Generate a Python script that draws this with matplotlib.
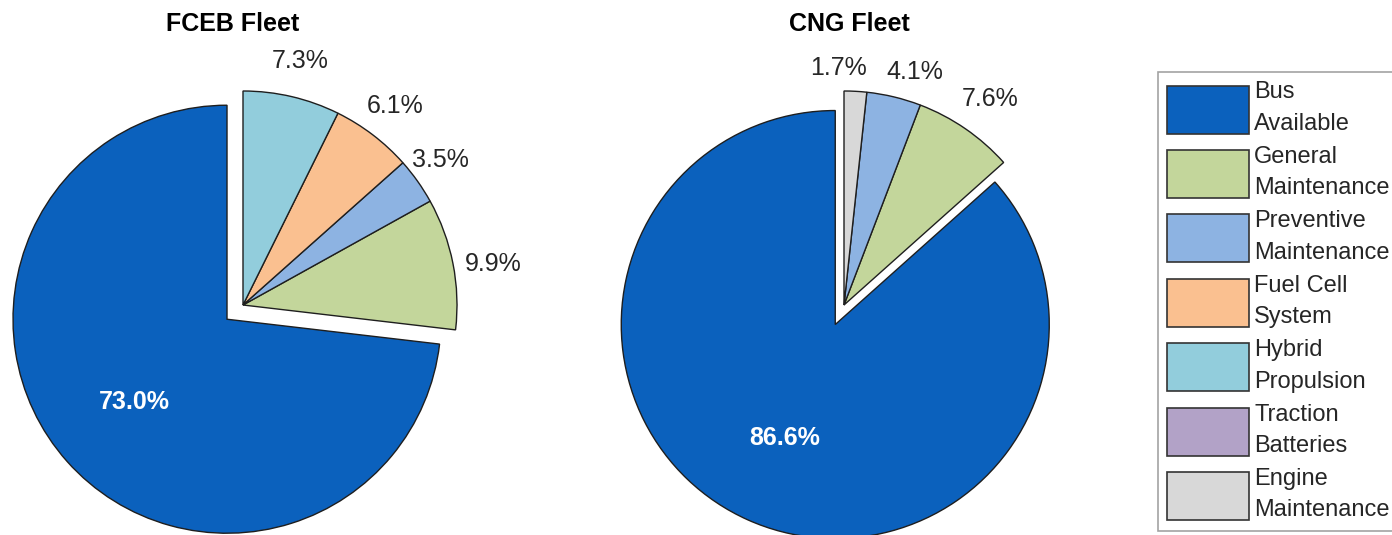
import matplotlib
matplotlib.use("Agg")
import numpy as np
import matplotlib.pyplot as plt
from matplotlib.patches import Patch

plt.rcParams['font.family'] = ['Liberation Sans', 'DejaVu Sans']

# ---- data ----
categories = ["Bus Available", "General Maintenance", "Preventive Maintenance",
              "Fuel Cell System", "Hybrid Propulsion", "Traction Batteries",
              "Engine Maintenance"]
cat_colors = ["#0B61BD", "#C3D69B", "#8DB3E2", "#FAC090", "#92CDDC",
              "#B2A2C7", "#D8D8D8"]

fceb_cats = ["Bus Available", "General Maintenance", "Preventive Maintenance",
             "Fuel Cell System", "Hybrid Propulsion"]
fceb_vals = [73.0, 9.9, 3.5, 6.1, 7.3]

cng_cats = ["Bus Available", "General Maintenance", "Preventive Maintenance",
            "Engine Maintenance"]
cng_vals = [86.6, 7.6, 4.1, 1.7]

titles = ["FCEB Fleet", "CNG Fleet"]

# ---- layout ----
W, H = 1392, 535
fig = plt.figure(figsize=(W / 100, H / 100), dpi=100)
R_PX = 214
L = 1.35
half = L * R_PX
color_of = dict(zip(categories, cat_colors))
TXT = "#262626"


def draw_pie(cx, cy_top, cats, vals, title, title_x, nudges):
    cy = H - cy_top
    ax = fig.add_axes([(cx - half) / W, (cy - half) / H, 2 * half / W, 2 * half / H])
    it = iter(vals)
    labels = [f"{v:.1f}%" for v in vals]
    explode = [0.1 if c == "Bus Available" else 0.0 for c in cats]
    wedges, texts, autotexts = ax.pie(
        vals, explode=explode, colors=[color_of[c] for c in cats],
        startangle=90, counterclock=True, labels=labels, labeldistance=1.17,
        autopct=lambda p: f"{next(it):.1f}%", pctdistance=0.58,
        wedgeprops=dict(edgecolor="#1e1e1e", linewidth=1.0),
        textprops=dict(fontsize=18, color=TXT))
    for i, (t, a) in enumerate(zip(texts, autotexts)):
        t.set_ha("center")
        t.set_va("center")
        if i == 0:
            t.set_visible(False)
            a.set_color("white")
            a.set_fontweight("bold")
        else:
            a.set_visible(False)
            dx, dy = nudges.get(i, (0.0, 0.0))
            x, y = t.get_position()
            t.set_position((x + dx, y + dy))
    ax.set_xlim(-L, L)
    ax.set_ylim(-L, L)
    ax.set_aspect("equal")
    ax.axis("off")
    fig.text(title_x / W, 1 - 24 / H, title, ha="center", va="center",
             fontsize=18, fontweight="bold", color="black")


draw_pie(243, 305, fceb_cats, fceb_vals, titles[0], 233,
         {2: (-0.03, 0.0), 1: (0.023, -0.037)})
draw_pie(844, 305, cng_cats, cng_vals, titles[1], 849,
         {3: (-0.09, -0.06), 2: (0.06, -0.05), 1: (0.02, 0.0)})

handles = [Patch(facecolor=c, edgecolor="#333333", linewidth=1.2) for c in cat_colors]
leg_labels = ["\n".join(c.rsplit(" ", 1)) for c in categories]
leg = fig.legend(handles, leg_labels, loc="upper left",
                 bbox_to_anchor=(1158 / W, 1 - 72 / H), borderaxespad=0,
                 fontsize=17, handlelength=3.47, handleheight=2.75,
                 handletextpad=0.2, borderpad=0.4, labelspacing=0.47,
                 fancybox=False, frameon=True)
leg.get_frame().set_edgecolor("#8c8c8c")
leg.get_frame().set_linewidth(1.2)
for t in leg.get_texts():
    t.set_color(TXT)
    t.set_linespacing(1.55)

fig.savefig("out.png", dpi=100)
